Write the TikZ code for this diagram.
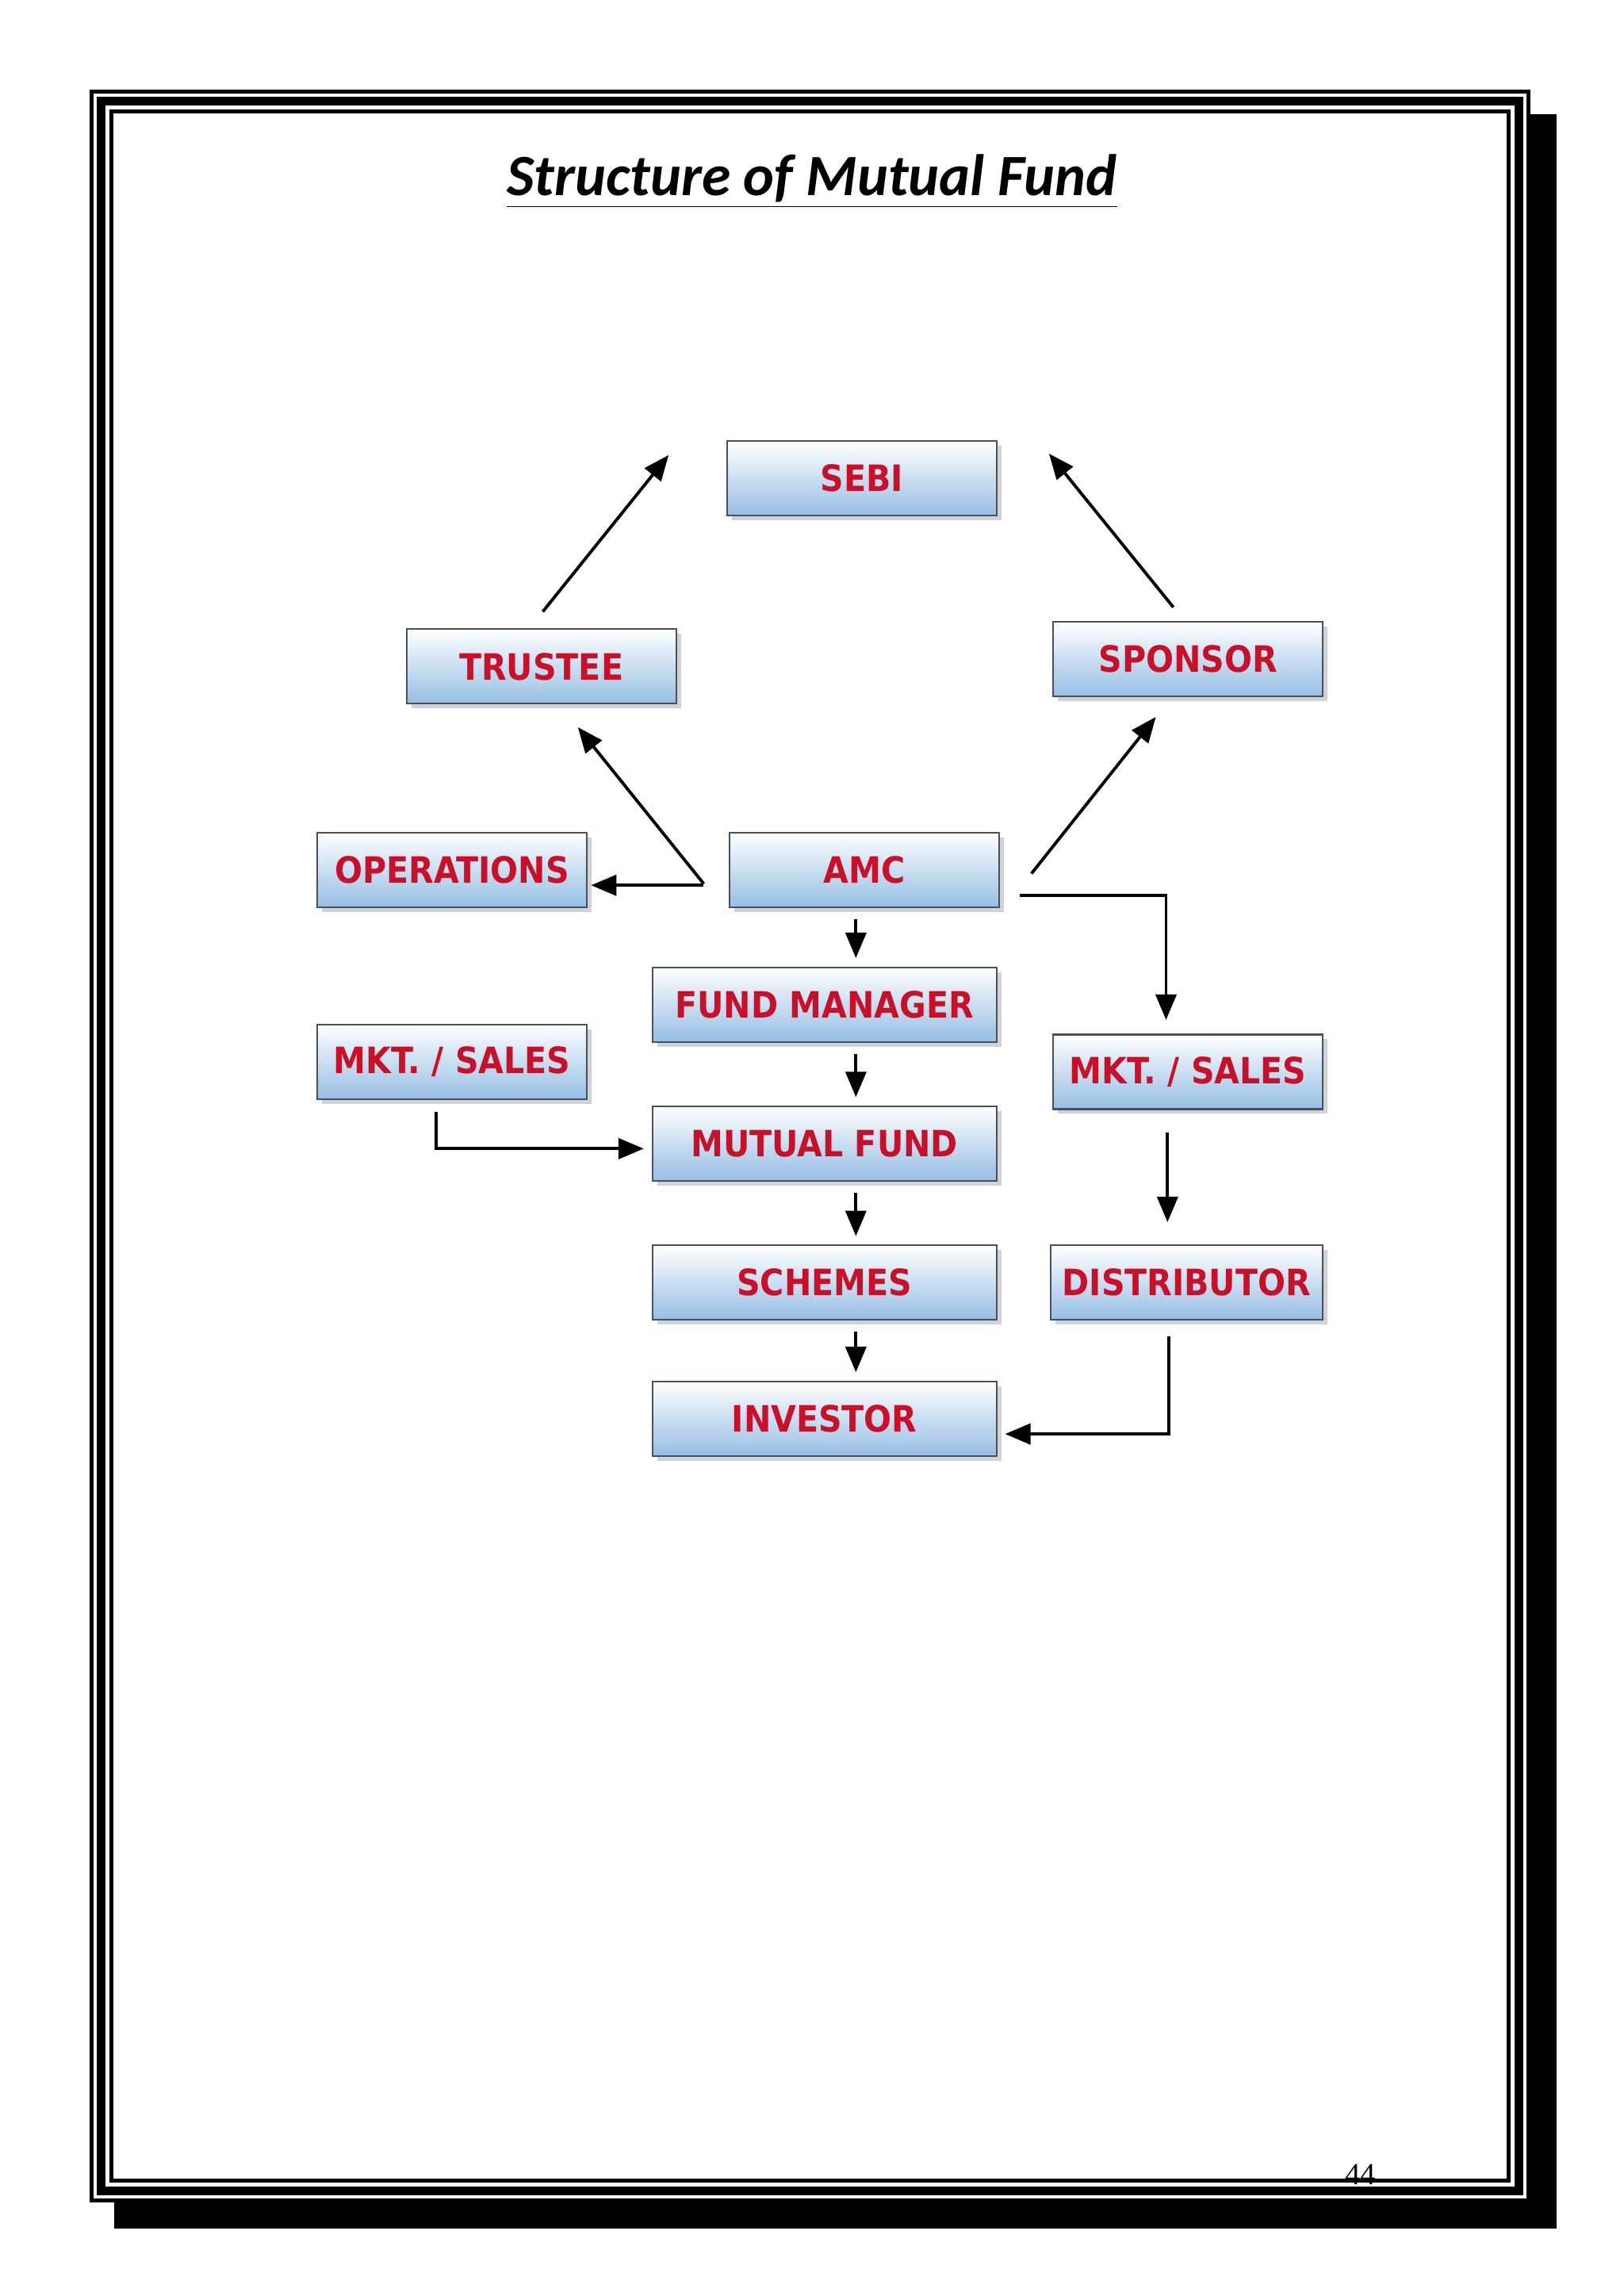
\documentclass[tikz,border=0pt]{standalone}
\usepackage{fontspec}
\setmainfont{Liberation Serif}
\newfontfamily\titlefont{Carlito}
\newfontfamily\boxfont{DejaVu Sans Condensed}
\usetikzlibrary{arrows.meta,shadows}
\definecolor{boxred}{RGB}{200,16,40}
\definecolor{boxblue}{RGB}{150,190,228}
\definecolor{boxedge}{RGB}{70,80,95}
\begin{document}
\begin{tikzpicture}[x=0.18450mm,y=-0.18450mm,
  box/.style={draw=boxedge,line width=0.6pt,top color=white,bottom color=boxblue,
    text=boxred,font=\boxfont\bfseries\fontsize{13}{15}\selectfont,
    minimum width=34mm,minimum height=9.4mm,inner sep=0pt,
    drop shadow={shadow xshift=0.6mm,shadow yshift=-0.6mm,opacity=0.35}},
  wbox/.style={box,minimum width=43.4mm},
  arr/.style={-{Triangle[length=3.2mm,width=2.6mm]},line width=1.1pt}]
\useasboundingbox (0,0) rectangle (1110,1569.1);
\fill[white] (0,0) rectangle (1110,1569.1);
% frame shadow
\fill[black] (78,78) rectangle (1064,1523);
\fill[white] (61,61) rectangle (1046,1505);
\draw[line width=1.4pt] (62.6,62.6) rectangle (1044.8,1503.8);
\draw[line width=3.1pt] (69.1,69.1) rectangle (1038.3,1497.3);
\draw[line width=1.4pt] (76.2,76.2) rectangle (1031.2,1490.4);
% title
\node (title) at (555,124) {\titlefont\bfseries\itshape\fontsize{21}{24}\selectfont\underline{Structure of Mutual Fund}};
\node (pg) at (930,1486) {\fontsize{11}{12}\selectfont 44};
% boxes
\node[box] (sebi) at (589,327) {SEBI};
\node[box] (trustee) at (370,455.5) {TRUSTEE};
\node[box] (sponsor) at (812,450.5) {SPONSOR};
\node[box] (ops) at (309,594.5) {OPERATIONS};
\node[box] (amc) at (591,594.5) {AMC};
\node[wbox] (fm) at (563.5,686.5) {FUND MANAGER};
\node[box] (mktl) at (309,725.5) {MKT. / SALES};
\node[box] (mktr) at (812,732.5) {MKT. / SALES};
\node[wbox] (mf) at (563.5,781.5) {MUTUAL FUND};
\node[wbox] (sch) at (563.5,876.5) {SCHEMES};
\node[box,minimum width=34.3mm] (dist) at (811,876.5) {DISTRIBUTOR};
\node[wbox] (inv) at (563.5,969.5) {INVESTOR};
% connector end points
\coordinate (t1) at (371,418); \coordinate (s1) at (457,311);
\coordinate (p1) at (802,415); \coordinate (s2) at (717,310);
\coordinate (a1) at (481,604); \coordinate (t2) at (395,497);
\coordinate (a2) at (705,597); \coordinate (p2) at (790,490);
\coordinate (a3) at (481,605); \coordinate (o1) at (404,605);
\coordinate (a4) at (697,612); \coordinate (m1) at (797,697);
\coordinate (ml1) at (298,760); \coordinate (mf1) at (440,785);
\coordinate (d1) at (799,913); \coordinate (i1) at (687,980);
\draw[arr] (t1) -- (s1);
\draw[arr] (p1) -- (s2);
\draw[arr] (a1) -- (t2);
\draw[arr] (a2) -- (p2);
\draw[arr] (a3) -- (o1);
\draw[arr] (a4) -| (m1);
\draw[arr] (ml1) |- (mf1);
\draw[arr] (d1) |- (i1);
\draw[arr,shorten <=4pt,shorten >=3pt] (amc.south-|585,0) -- (fm.north-|585,0);
\draw[arr,shorten <=4pt,shorten >=3pt] (fm.south-|585,0) -- (mf.north-|585,0);
\draw[arr,shorten <=4pt,shorten >=3pt] (mf.south-|585,0) -- (sch.north-|585,0);
\draw[arr,shorten <=4pt,shorten >=3pt] (sch.south-|585,0) -- (inv.north-|585,0);
\draw[arr,shorten <=8pt,shorten >=8pt] (mktr.south-|798,0) -- (dist.north-|798,0);
\end{tikzpicture}
\end{document}
